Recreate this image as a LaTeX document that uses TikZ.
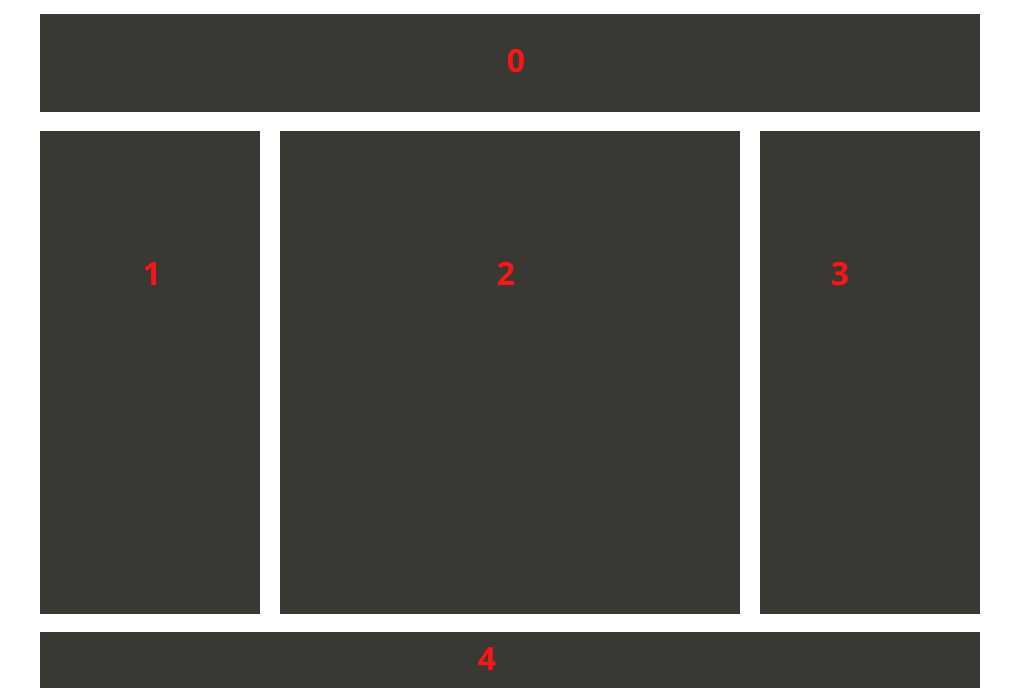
\documentclass[tikz,border=0pt]{standalone}
\usepackage{fontspec}
\setmainfont{Open Sans}
\definecolor{panelgray}{RGB}{58,56,51}
\definecolor{labelred}{RGB}{250,22,22}
\begin{document}
\begin{tikzpicture}[x=1pt, y=-1pt, every node/.style={font=\bfseries\fontsize{32}{36}\selectfont, text=labelred}]
\tikzset{panel/.style={fill=panelgray, draw=none}}
\useasboundingbox[fill=white] (0,0) rectangle (1020,700);
% Header panel
\fill[panel] (40,14) rectangle (980,112);
\node (l0) at (516,61) {0};
% Middle row of panels
\fill[panel] (40,131) rectangle (260,614);
\fill[panel] (280,131) rectangle (740,614);
\fill[panel] (760,131) rectangle (980,614);
\node (l1) at (152,274) {1};
\node (l2) at (506,274) {2};
\node (l3) at (840,274) {3};
% Footer panel
\fill[panel] (40,632) rectangle (980,688);
\node (l4) at (487,659) {4};
\end{tikzpicture}
\end{document}
